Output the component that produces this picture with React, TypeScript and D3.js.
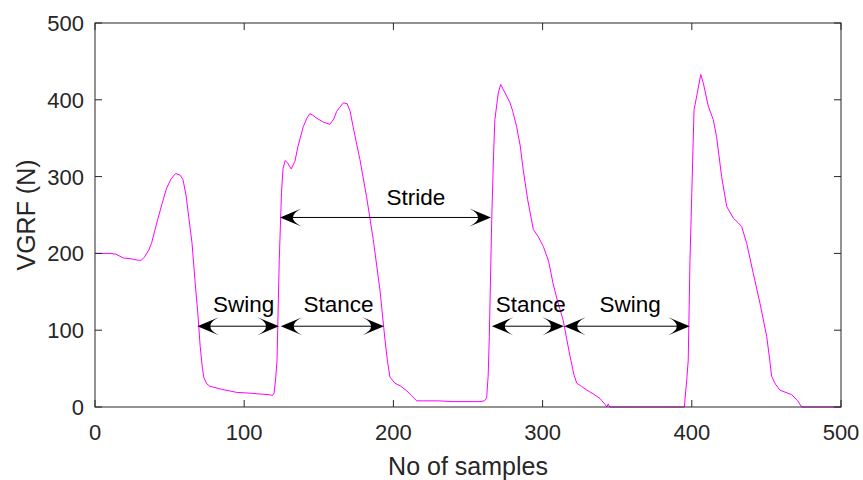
import React from "react";
import * as d3 from "d3";

const samples = [0,10,14,19,24,29,31,33,36,38,42,45,48,51,54,57,59,61,63,65,67,69,70.5,72,73,75,77,85,90,95,104,110,117,119,120,121,122,123.5,125,126,127.5,129,131.5,134,136,139.6,142,144,146,148.6,153,157.5,160,162,164,166.4,169,171,173,175,177.6,182,186.5,191,194.4,196,197.7,201,205,209,212,215.6,220,230,240,250,258,261,262.5,263.5,264.3,265.9,267,268,270.3,271.9,274.8,278.2,280,282.6,285,287,290,293.8,297,300.5,304,307,310,313.8,316,318.4,321,322.9,326,329.6,334,338.5,342,343,344,345,395,396.6,397.6,398.8,400,401.5,403.3,406,407.7,411,414.4,416.6,420,423.4,427.8,431,433.4,436.8,441.2,445.7,450.2,452,453.5,456,459,467,471,473.6,500];
const vgrf = [200,200,199,194,193,191,191,195,204,214,244,265,285,297,304,302,296,276,245,214,165,120,79,50,38,30,27,23,21,19,18,17,16,15,18,35,61,192,279,310,321,318,310,320,339,365,376,382,380,376,371,368,375,385,390,396,395,385,365,346,322,274,218,152,87,60,39,31,27,21,15,8,8,8,7,7,7,8,12,40,92,244,320,374,409,420,409,396,385,365,340,309,270,231,222,209,190,161,138,113,90,66,42,31,27,22,17,11,3,0,4,0,0,35,61,192,279,387,405,433,422,392,374,352,300,261,246,240,235,213,174,135,92,65,40,30,22,16,8,0,0];

const xTicks = [0, 100, 200, 300, 400, 500];
const yTicks = [0, 100, 200, 300, 400, 500];

const arrowLabels = ["Swing", "Stance", "Stride", "Stance", "Swing"];
const arrowStart = [68.6, 124.5, 124, 266, 314.5];
const arrowEnd = [123.3, 193.7, 265.4, 314.3, 398.6];
const arrowLevel = [105.2, 105.2, 246.8, 105.2, 105.2];
const labelX = [99.6, 163.2, 215, 292, 358.6];
const labelY = [124, 124, 262.6, 124, 124];

const W = 863, H = 480;
const left = 95, right = 841, top = 23, bottom = 407;
const FONT = "'Liberation Sans', Arial, Helvetica, sans-serif";
const AX = "#262626";

function head(tx: number, ty: number, dir: number) {
  const L = 21.5, Wd = 9;
  const bx = tx - dir * L;
  const cx = tx - dir * L * 0.2;
  return `M${tx},${ty} L${bx},${ty - Wd} Q${cx},${ty} ${bx},${ty + Wd} Z`;
}

export default function App() {
  const x = d3.scaleLinear().domain([0, 500]).range([left, right]);
  const y = d3.scaleLinear().domain([0, 500]).range([bottom, top]);
  const pts = samples.map((s, i) => [s, vgrf[i]] as [number, number]);
  const line = d3.line<[number, number]>().x(d => x(d[0])).y(d => y(d[1]));
  const tl = 7;
  return (
    <svg width={W} height={H} style={{ position: "absolute", left: 0, top: 0, background: "#fff" }} fontFamily={FONT}>
      <rect x={0} y={0} width={W} height={H} fill="#fff" />
      <path d={line(pts) || ""} fill="none" stroke="#ff00ff" strokeWidth={1} />
      {arrowLabels.map((lab, i) => {
        const x1 = x(arrowStart[i]), x2 = x(arrowEnd[i]), yy = y(arrowLevel[i]);
        return (
          <g key={i}>
            <line x1={x1 + 8} x2={x2 - 8} y1={yy} y2={yy} stroke="#000" strokeWidth={1} />
            <path d={head(x1, yy, -1)} fill="#000" />
            <path d={head(x2, yy, 1)} fill="#000" />
            <text x={x(labelX[i])} y={y(labelY[i])} fontSize={22.5} textAnchor="middle" fill="#000">{lab}</text>
          </g>
        );
      })}
      <rect x={left} y={top} width={right - left} height={bottom - top} fill="none" stroke={AX} strokeWidth={1} />
      {xTicks.map(t => (
        <g key={"x" + t}>
          <line x1={x(t)} x2={x(t)} y1={bottom} y2={bottom - tl} stroke={AX} />
          <line x1={x(t)} x2={x(t)} y1={top} y2={top + tl} stroke={AX} />
          <text x={x(t)} y={440} fontSize={22} textAnchor="middle" fill={AX}>{t}</text>
        </g>
      ))}
      {yTicks.map(t => (
        <g key={"y" + t}>
          <line x1={left} x2={left + tl} y1={y(t)} y2={y(t)} stroke={AX} />
          <line x1={right} x2={right - tl} y1={y(t)} y2={y(t)} stroke={AX} />
          <text x={84} y={y(t) + 8} fontSize={22} textAnchor="end" fill={AX}>{t}</text>
        </g>
      ))}
      <text x={(left + right) / 2} y={475} fontSize={25} textAnchor="middle" fill={AX}>No of samples</text>
      <text transform={`translate(35,${(top + bottom) / 2}) rotate(-90)`} fontSize={25} textAnchor="middle" fill={AX}>VGRF (N)</text>
    </svg>
  );
}
